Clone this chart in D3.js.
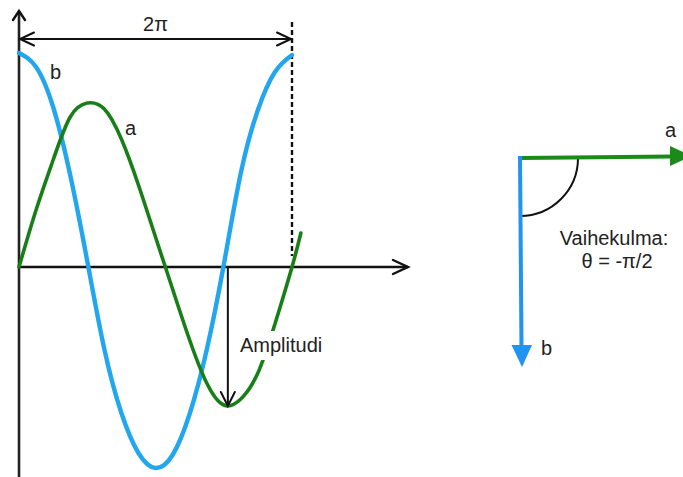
<!DOCTYPE html>
<html>
<head>
<meta charset="utf-8">
<script src="https://cdn.jsdelivr.net/npm/d3@7"></script>
<style>
  html, body { margin: 0; padding: 0; background: #fff; }
  svg { display: block; }
  text { font-family: Arial, "Liberation Sans", sans-serif; fill: #222; }
</style>
</head>
<body>
<svg id="chart" width="683" height="477"></svg>
<script>
// Phase positions, in multiples of π
const phaseB = [0, 0.125, 0.25, 0.375, 0.5, 0.625, 0.75, 0.875, 1, 1.125, 1.25, 1.375, 1.5, 1.625, 1.75, 1.875, 2];
const phaseA = [0, 0.125, 0.25, 0.375, 0.5, 0.625, 0.75, 0.875, 1, 1.125, 1.25, 1.375, 1.5, 1.625, 1.75, 1.875, 2, 2.065];

// Signal b (blue, leads by a quarter period) and signal a (green)
const waveB = [1.07, 1.0, 0.80, 0.46, 0.03, -0.41, -0.73, -0.93, -1.005, -0.94, -0.735, -0.415, 0.01, 0.47, 0.785, 0.975, 1.06];
const waveA = [0, 0.285, 0.535, 0.75, 0.82, 0.79, 0.64, 0.41, 0.15, -0.11, -0.365, -0.58, -0.69, -0.66, -0.53, -0.285, 0, 0.17];

// Amplitude marker on signal a (phase in multiples of π, value)
const amplitudePhase = 1.53;
const amplitudeValue = -0.70;

// Labels
const periodLabel = "2π";
const amplitudeLabel = "Amplitudi";
const phaseLabel = ["Vaihekulma:", "θ = -π/2"];
const seriesNames = ["a", "b"];

const colorA = "#187f18";
const colorB = "#22a6ee";
const vecColorA = "#1b8a1b";
const vecColorB = "#2193f0";

const svg = d3.select("#chart");

const x = d3.scaleLinear().domain([0, 2 * Math.PI]).range([19, 292]);
const y = d3.scaleLinear().domain([-1, 1]).range([467, 67]);

const x0 = x(0), y0 = y(0);

function chevron(g, tx, ty, angle, len, half, w) {
  // open arrow head pointing in direction `angle` (radians) with tip at (tx, ty)
  const ca = Math.cos(angle), sa = Math.sin(angle);
  const bx = tx - ca * len, by = ty - sa * len;
  const p1 = [bx - sa * half, by + ca * half];
  const p2 = [bx + sa * half, by - ca * half];
  g.append("path")
    .attr("d", `M${p1[0]},${p1[1]}L${tx},${ty}L${p2[0]},${p2[1]}`)
    .attr("fill", "none").attr("stroke", "#111").attr("stroke-width", w)
    .attr("stroke-linecap", "round").attr("stroke-linejoin", "miter");
}

// ---- axes ----
const axes = svg.append("g");
axes.append("line").attr("x1", x0).attr("y1", 11).attr("x2", x0).attr("y2", 477)
  .attr("stroke", "#222").attr("stroke-width", 2.6);
chevron(axes, x0, 11, -Math.PI / 2, 9, 6, 2.4);
axes.append("line").attr("x1", x0).attr("y1", y0).attr("x2", 408).attr("y2", y0)
  .attr("stroke", "#111").attr("stroke-width", 2.4);
chevron(axes, 408, y0, 0, 15, 7, 2.4);

// ---- period marker ----
const xEnd = x(2 * Math.PI);
svg.append("line").attr("x1", xEnd).attr("y1", 22).attr("x2", xEnd).attr("y2", 256)
  .attr("stroke", "#111").attr("stroke-width", 2.4).attr("stroke-dasharray", "5,3");
svg.append("line").attr("x1", x0 + 1).attr("y1", 39).attr("x2", xEnd - 1).attr("y2", 39)
  .attr("stroke", "#111").attr("stroke-width", 2);
chevron(svg, x0 + 1, 39, Math.PI, 14, 6.5, 2);
chevron(svg, xEnd - 1, 39, 0, 14, 6.5, 2);
svg.append("text").attr("x", (x0 + xEnd) / 2).attr("y", 31)
  .attr("text-anchor", "middle").attr("font-size", 20).text(periodLabel);

// ---- waves ----
const line = d3.line()
  .x(d => x(d[0] * Math.PI))
  .y(d => y(d[1]))
  .curve(d3.curveNatural);

svg.append("path").datum(phaseB.map((p, i) => [p, waveB[i]]))
  .attr("d", line).attr("fill", "none").attr("stroke", colorB)
  .attr("stroke-width", 4.4).attr("stroke-linecap", "round");
svg.append("path").datum(phaseA.map((p, i) => [p, waveA[i]]))
  .attr("d", line).attr("fill", "none").attr("stroke", colorA)
  .attr("stroke-width", 3.6).attr("stroke-linecap", "round");

// series labels on the curves
svg.append("text").attr("x", 50).attr("y", 79).attr("font-size", 20).text(seriesNames[1]);
svg.append("text").attr("x", 125).attr("y", 135).attr("font-size", 20).text(seriesNames[0]);

// ---- amplitude marker ----
const ax = x(amplitudePhase * Math.PI), ay = y(amplitudeValue);
svg.append("line").attr("x1", ax).attr("y1", y0).attr("x2", ax).attr("y2", ay - 1)
  .attr("stroke", "#111").attr("stroke-width", 2);
chevron(svg, ax, ay - 1, Math.PI / 2, 14, 7, 2);
svg.append("rect").attr("x", 238).attr("y", 331).attr("width", 96).attr("height", 29).attr("fill", "#fff");
svg.append("text").attr("x", 240).attr("y", 352).attr("font-size", 20).text(amplitudeLabel);

// ---- phasor diagram ----
const ox = 520, oy = 158;
const vec = svg.append("g");
// angle arc between the two phasors
const arcR = 58;
vec.append("path")
  .attr("d", d3.arc()({ innerRadius: arcR, outerRadius: arcR, startAngle: Math.PI / 2, endAngle: Math.PI }))
  .attr("transform", `translate(${ox},${oy})`)
  .attr("fill", "none").attr("stroke", "#111").attr("stroke-width", 2);

// phasor a (green, to the right)
vec.append("line").attr("x1", ox).attr("y1", oy).attr("x2", 672).attr("y2", 156.5)
  .attr("stroke", vecColorA).attr("stroke-width", 4);
vec.append("path").attr("d", "M670,146L692,156L670,166Z").attr("fill", vecColorA);

// phasor b (blue, downward)
vec.append("line").attr("x1", ox).attr("y1", oy - 2).attr("x2", 521.5).attr("y2", 347)
  .attr("stroke", vecColorB).attr("stroke-width", 4);
vec.append("path").attr("d", "M511.5,345L532,345L522,367Z").attr("fill", vecColorB);

vec.append("text").attr("x", 665).attr("y", 137).attr("font-size", 20).text(seriesNames[0]);
vec.append("text").attr("x", 541).attr("y", 355).attr("font-size", 20).text(seriesNames[1]);

vec.append("text").attr("x", 614).attr("y", 245).attr("text-anchor", "middle")
  .attr("font-size", 20).text(phaseLabel[0]);
vec.append("text").attr("x", 617).attr("y", 268).attr("text-anchor", "middle")
  .attr("font-size", 20).text(phaseLabel[1]);
</script>
</body>
</html>
